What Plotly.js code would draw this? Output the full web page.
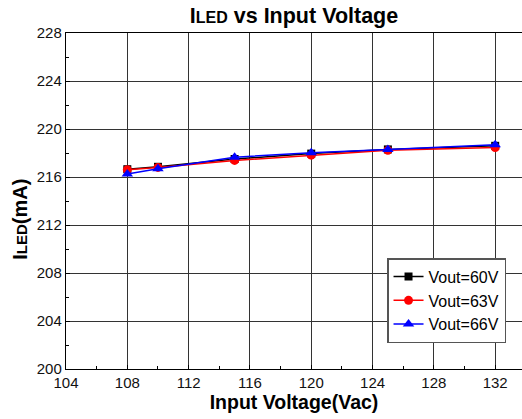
<!DOCTYPE html>
<html>
<head>
<meta charset="utf-8">
<script src="https://cdn.plot.ly/plotly-3.0.1.min.js"></script>
<style>html,body{margin:0;padding:0;background:#fff;}#chart{width:522px;height:419px;}</style>
</head>
<body>
<div id="chart"></div>
<script>
const inputVoltage = [108, 110, 115, 120, 125, 132];
const iled60 = [216.65, 216.85, 217.5, 217.95, 218.3, 218.6];
const iled63 = [216.6, 216.8, 217.38, 217.82, 218.22, 218.45];
const iled66 = [216.25, 216.68, 217.65, 218.02, 218.3, 218.68];
const seriesNames = ["Vout=60V", "Vout=63V", "Vout=66V"];
const xTicks = [104, 108, 112, 116, 120, 124, 128, 132];
const yTicks = [200, 204, 208, 212, 216, 220, 224, 228];

const mk = (y, name, color, symbol, size) => ({
  x: inputVoltage, y: y, name: name, type: 'scatter', mode: 'lines+markers',
  line: {color: color, width: 1.5},
  marker: {color: color, symbol: symbol, size: size}
});

const data = [
  mk(iled60, seriesNames[0], '#000000', 'square', 8),
  mk(iled63, seriesNames[1], '#ff0000', 'circle', 9),
  mk(iled66, seriesNames[2], '#0000ff', 'triangle-up', 10)
];

const axisCommon = {
  showline: true, linecolor: '#000', linewidth: 1.2, mirror: true,
  showgrid: true, gridcolor: '#333', gridwidth: 1,
  ticks: 'inside', ticklen: 4, tickcolor: '#000',
  zeroline: false,
  tickfont: {family: 'Liberation Sans, Arial, sans-serif', size: 15, color: '#111'}
};

const layout = {
  width: 522, height: 419,
  margin: {l: 66, r: 0, t: 33, b: 50},
  paper_bgcolor: '#fff', plot_bgcolor: '#fff',
  font: {family: 'Liberation Sans, Arial, sans-serif', color: '#000'},
  title: {text: '<b>I<span style="font-size:16px">LED</span> vs Input Voltage</b>',
          font: {size: 21.5, color: '#000'}, xref: 'paper', x: 0.5, xanchor: 'center',
          yref: 'container', y: 0.962, yanchor: 'middle'},
  xaxis: Object.assign({}, axisCommon, {
    range: [104, 133.75], tickvals: xTicks, ticktext: xTicks.map(String),
    minor: {ticks: 'inside', ticklen: 3, tickcolor: '#000', showgrid: false, dtick: 2, tick0: 104},
    title: {text: '<b>Input Voltage(Vac)</b>', font: {size: 19.5, color: '#000'}, standoff: 4}
  }),
  yaxis: Object.assign({}, axisCommon, {
    range: [200, 228], tickvals: yTicks, ticktext: yTicks.map(String),
    minor: {ticks: 'inside', ticklen: 3, tickcolor: '#000', showgrid: false, dtick: 2, tick0: 200}
  }),
  annotations: [{
    text: '<b>I<span style="font-size:15px">LED</span>(mA)</b>',
    xref: 'paper', yref: 'paper', x: -0.101, y: 0.447,
    xanchor: 'center', yanchor: 'middle', textangle: -90, showarrow: false,
    font: {size: 20, color: '#000'}
  }],
  legend: {
    x: 0.704, y: 0.33, xanchor: 'left', yanchor: 'top',
    bgcolor: '#fff', bordercolor: '#555', borderwidth: 1.5,
    font: {size: 16, color: '#000'},
    tracegroupgap: 0, itemwidth: 30
  },
  showlegend: true
};

Plotly.newPlot('chart', data, layout, {displayModeBar: false, staticPlot: true});
</script>
</body>
</html>
